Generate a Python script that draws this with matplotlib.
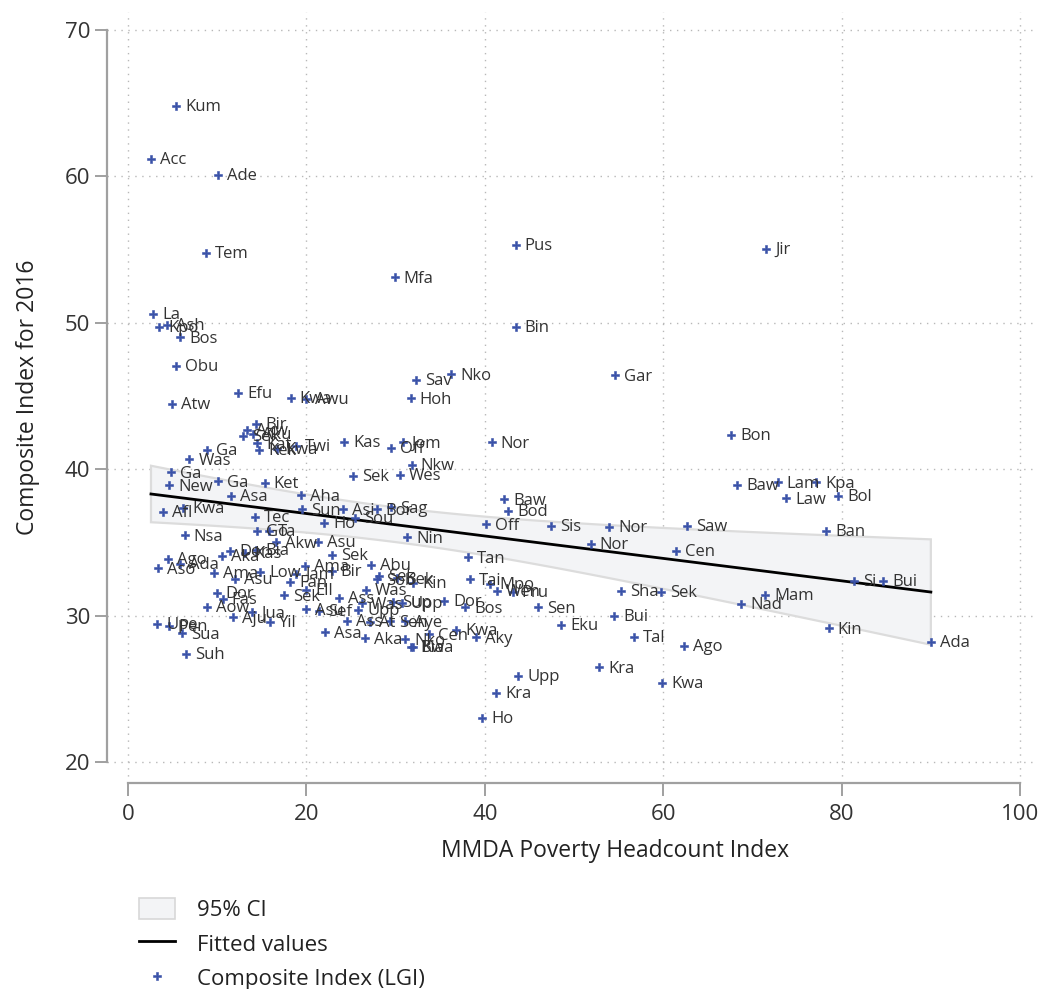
import numpy as np
import matplotlib
matplotlib.use("Agg")
import matplotlib.pyplot as plt
from matplotlib.patches import Patch
from matplotlib.lines import Line2D

plt.rcParams['font.family'] = ['Open Sans', 'DejaVu Sans']

names = ["Kum","Acc","Ade","Tem","Jir","Pus","Mfa","La","Kpo","Ash","Bos","Bin","Obu","Gar","Nko","Sav",
         "Efu","Kwa","Awu","Hoh","Atw","Bir","Akw","Aku","Sek","Kat","Kek","Kwa","Twi","Bon","Kas","Jom",
         "Off","Nor","Ga","Was","Nkw","Ga","Wes","Sek","Ga","Ket","New","Baw","Lam","Kpa","Law","Bol",
         "Asa","Aha","Baw","Bod","Afl","Kwa","Sun","Asi","Bor","Sag","Tec","Sou","Ho","Off","Sis","Nor",
         "Saw","Ban","Go","Ta","Nsa","Nin","Akw","Asu","Nor","Cen","Dor","Kas","Bia","Aka","Sek","Tan",
         "Ago","Ada","Aso","Abu","Ama","Bir","Ama","Low","Jam","Asu","Tai","Si","Bui","Fan","Sek","Sob",
         "Bek","Kin","Mpo","Was","Ell","Wen","Pru","Sha","Sek","Dor","Sek","Mam","Ass","Fas","Dor","Sup",
         "Upp","Was","Nad","Aow","Bos","Sen","Asu","Upp","Sef","Jua","Bui","Aju","Ass","At","Sen","Aye",
         "Yil","Upe","Eku","Pen","Kin","Kwa","Asa","Sua","Cen","Tal","Aky","Aka","Nko","Ada","Ago","Bia",
         "Kwa","Suh","Kra","Upp","Kwa","Kra","Ho"]
poverty = [5.38,2.58,10.13,8.74,71.52,43.46,29.90,2.84,3.50,4.41,5.83,43.46,5.38,54.60,36.21,32.29,
           12.33,18.24,20.00,31.69,4.90,14.35,13.30,13.98,12.93,14.50,14.70,16.67,18.83,67.60,24.25,30.79,
           29.48,40.77,8.90,6.88,31.80,4.78,30.49,25.26,10.13,15.33,4.60,68.31,72.83,77.13,73.77,79.63,
           11.55,19.36,42.15,42.64,3.96,6.20,19.47,24.06,27.87,29.45,14.22,25.45,22.00,40.13,47.42,53.96,
           62.70,78.25,14.50,15.84,6.35,31.28,16.60,21.34,51.87,61.40,11.43,13.12,14.40,10.50,22.90,38.08,
           4.45,5.83,3.33,27.27,19.84,22.85,9.64,14.85,18.85,12.00,38.34,81.43,84.68,18.16,28.14,27.87,
           30.10,31.98,40.58,26.68,19.96,41.33,43.12,55.27,59.75,9.94,17.45,71.41,23.65,10.61,35.46,29.74,
           30.68,26.20,68.72,8.90,37.78,45.93,19.96,25.82,21.45,13.95,54.52,11.73,24.52,27.13,29.37,31.05,
           15.92,3.29,48.54,4.63,78.55,36.77,22.09,6.02,33.78,56.69,38.98,26.57,31.05,89.99,62.33,31.73,
           31.90,6.50,52.80,43.76,59.90,41.26,39.72]
lgi = [64.81,61.17,60.07,54.77,55.04,55.29,53.08,50.58,49.73,49.85,49.00,49.69,47.05,46.40,46.48,46.09,
       45.20,44.86,44.80,44.84,44.45,43.07,42.70,42.40,42.27,41.77,41.31,41.38,41.58,42.34,41.84,41.82,
       41.47,41.82,41.31,40.67,40.28,39.78,39.60,39.54,39.17,39.08,38.90,38.92,39.10,39.10,38.01,38.19,
       38.18,38.22,37.94,37.17,37.08,37.37,37.26,37.26,37.26,37.40,36.75,36.69,36.35,36.24,36.14,36.07,
       36.12,35.80,35.77,35.77,35.49,35.34,35.00,35.05,34.89,34.41,34.41,34.30,34.50,34.09,34.14,33.98,
       33.87,33.52,33.23,33.48,33.39,33.05,32.93,33.00,32.86,32.50,32.48,32.39,32.36,32.30,32.70,32.48,
       32.55,32.25,32.16,31.75,31.77,31.70,31.63,31.67,31.63,31.55,31.38,31.41,31.22,31.15,31.02,30.95,
       30.88,30.84,30.79,30.61,30.57,30.57,30.43,30.38,30.33,30.21,29.97,29.87,29.64,29.59,29.60,29.62,
       29.59,29.43,29.36,29.29,29.13,29.02,28.86,28.79,28.72,28.54,28.52,28.45,28.38,28.22,27.92,27.88,
       27.85,27.38,26.47,25.87,25.42,24.74,23.03]

x_ticks = [0, 20, 40, 60, 80, 100]
y_ticks = [20, 30, 40, 50, 60, 70]

x = np.array(poverty)
y = np.array(lgi)
n = len(x)
b, a = np.polyfit(x, y, 1)
xs = np.linspace(x.min(), x.max(), 100)
fit = a + b * xs
resid = y - (a + b * x)
s = np.sqrt(np.sum(resid ** 2) / (n - 2))
sxx = np.sum((x - x.mean()) ** 2)
se = s * np.sqrt(1.0 / n + (xs - x.mean()) ** 2 / sxx)
tval = 1.976
lo, hi = fit - tval * se, fit + tval * se

W, H = 1046, 989
fig = plt.figure(figsize=(W / 100, H / 100), dpi=100)
ax = fig.add_axes([107 / W, 1 - 783 / H, (1038 - 107) / W, (783 - 12) / H])

ax.set_xlim(-2.35, 102.0)
ax.set_ylim(18.57, 71.2)

ax.set_xticks(x_ticks)
ax.set_yticks(y_ticks)
ax.grid(True, color='#b8b8b8', linestyle=(0, (1, 4)), linewidth=1.0, zorder=0)
ax.set_axisbelow(True)

band_color = '#f3f4f6'
poly_x = np.concatenate([xs, xs[::-1]])
poly_y = np.concatenate([hi, lo[::-1]])
ax.fill(poly_x, poly_y, facecolor=band_color, edgecolor='#dcdcdc', linewidth=1.6, zorder=1)
ax.plot(xs, fit, color='black', linewidth=2.0, zorder=2)

mcol = '#3a52a8'
ax.plot(x, y, linestyle='none', marker='P', markersize=6.4, color=mcol,
        markeredgewidth=0.4, zorder=3)
for nm, xi, yi in zip(names, x, y):
    ax.annotate(nm, (xi, yi), xytext=(6.5, -1), textcoords='offset points',
                ha='left', va='center', fontsize=12, color='#333333', zorder=4)

for sp in ['top', 'right']:
    ax.spines[sp].set_visible(False)
ax.spines['left'].set_bounds(20, 70)
ax.spines['bottom'].set_bounds(0, 100)
for sp in ['left', 'bottom']:
    ax.spines[sp].set_color('#a0a0a0')
    ax.spines[sp].set_linewidth(1.6)
ax.tick_params(axis='both', colors='#a0a0a0', length=9, width=1.4, labelsize=16,
               labelcolor='#333333')
ax.tick_params(axis='y', pad=3)
ax.tick_params(axis='x', pad=6)

ax.set_xlabel('MMDA Poverty Headcount Index', fontsize=16.5, color='#222222')
ax.set_ylabel('Composite Index for 2016', fontsize=16.5, color='#222222')
ax.xaxis.set_label_coords((615 - 107) / (1038 - 107), -(839 - 783) / (783 - 12))
ax.yaxis.set_label_coords(-(107 - 40) / (1038 - 107), 0.5)

handles = [Patch(facecolor=band_color, edgecolor='#d8d8d8', linewidth=1.2),
           Line2D([0], [0], color='black', linewidth=2),
           Line2D([0], [0], linestyle='none', marker='P', markersize=6, color=mcol, markeredgewidth=0.4)]
labels = ['95% CI', 'Fitted values', 'Composite Index (LGI)']
leg = fig.legend(handles, labels, loc='upper left', bbox_to_anchor=(139 / W, 1 - 898 / H),
                 frameon=False, fontsize=16, handlelength=1.6, handleheight=1.1,
                 labelspacing=0.5, handletextpad=1.0, borderaxespad=0, borderpad=0,
                 labelcolor='#222222')

fig.savefig('out.png', dpi=100)
